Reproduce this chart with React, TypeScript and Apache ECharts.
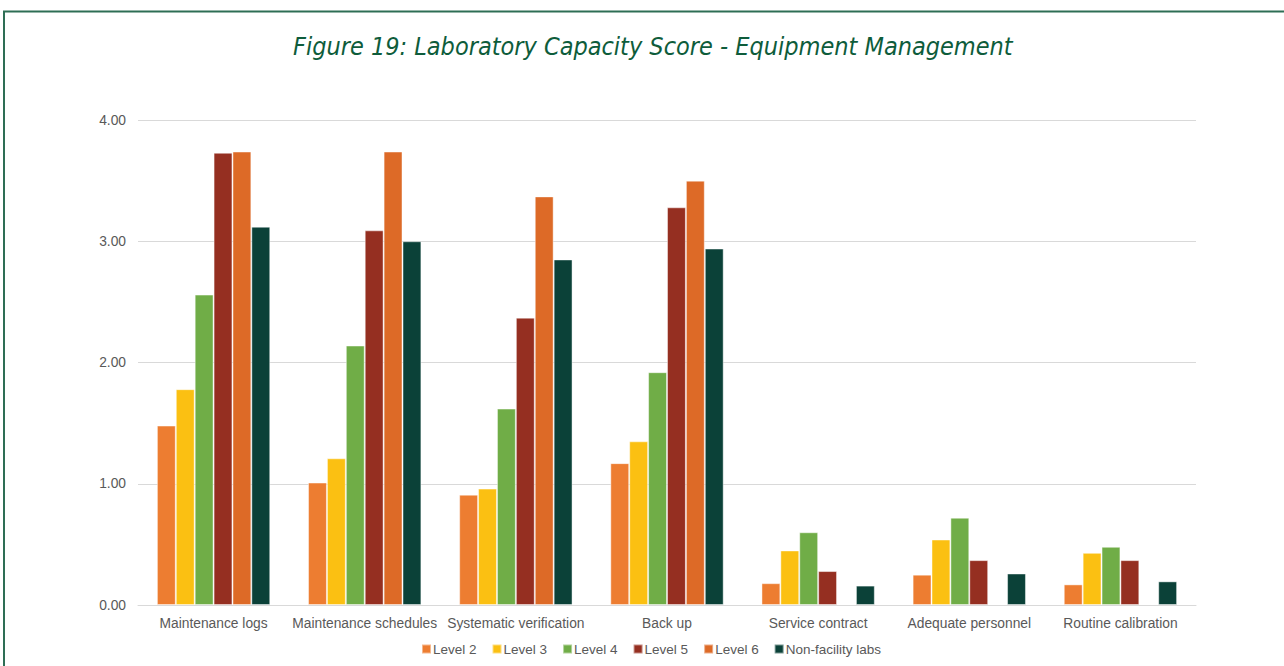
import React, { useEffect, useRef } from "react";
import * as echarts from "echarts";

const categories = [
  "Maintenance logs",
  "Maintenance schedules",
  "Systematic verification",
  "Back up",
  "Service contract",
  "Adequate personnel",
  "Routine calibration",
];
const seriesNames = ["Level 2", "Level 3", "Level 4", "Level 5", "Level 6", "Non-facility labs"];
const level2 = [1.48, 1.01, 0.91, 1.17, 0.18, 0.25, 0.17];
const level3 = [1.78, 1.21, 0.96, 1.35, 0.45, 0.54, 0.43];
const level4 = [2.56, 2.14, 1.62, 1.92, 0.6, 0.72, 0.48];
const level5 = [3.73, 3.09, 2.37, 3.28, 0.28, 0.37, 0.37];
const level6 = [3.74, 3.74, 3.37, 3.5, null, null, null];
const nonFacility = [3.12, 3.0, 2.85, 2.94, 0.16, 0.26, 0.195];
const yTicks = [0, 1, 2, 3, 4];
const colors = ["#ED7D31", "#FBC012", "#70AD47", "#952F21", "#DD6A27", "#0B4138"];

export default function App() {
  const ref = useRef<HTMLDivElement>(null);
  useEffect(() => {
    const chart = echarts.init(ref.current!, null, { renderer: "svg" });
    const data = [level2, level3, level4, level5, level6, nonFacility];
    chart.setOption({
      animation: false,
      backgroundColor: "#ffffff",
      title: {
        text: "Figure 19: Laboratory Capacity Score - Equipment Management",
        left: 288,
        top: 29,
        textStyle: {
          fontFamily: "'DejaVu Sans Condensed', 'Liberation Sans', sans-serif",
          fontStyle: "italic",
          fontWeight: "normal",
          fontSize: 25,
          color: "#0E5C3B",
        },
      },
      graphic: [
        {
          type: "rect",
          shape: { x: 4, y: 11.5, width: 1400, height: 800 },
          style: { fill: "none", stroke: "#2E6E55", lineWidth: 2 },
          silent: true,
        },
      ],
      legend: {
        bottom: 5,
        left: 416,
        itemWidth: 9,
        itemHeight: 9,
        itemGap: 15,
        icon: "rect",
        textStyle: {
          fontFamily: "Liberation Sans",
          fontSize: 13.5,
          color: "#595959",
          padding: [0, 0, 0, -3],
        },
        data: seriesNames,
      },
      grid: { left: 138, right: 88, top: 120, bottom: 61, containLabel: false },
      xAxis: {
        type: "category",
        data: categories,
        axisLine: { lineStyle: { color: "#D9D9D9" } },
        axisTick: { show: false },
        axisLabel: {
          fontFamily: "Liberation Sans",
          fontSize: 13.8,
          color: "#595959",
          margin: 11,
          interval: 0,
        },
      },
      yAxis: {
        type: "value",
        min: yTicks[0],
        max: yTicks[yTicks.length - 1],
        interval: 1,
        axisLine: { show: false },
        axisTick: { show: false },
        splitLine: { lineStyle: { color: "#D9D9D9" } },
        axisLabel: {
          fontFamily: "Liberation Sans",
          fontSize: 13.8,
          color: "#595959",
          margin: 12,
          formatter: (v: number) => v.toFixed(2),
        },
      },
      series: seriesNames.map((name, i) => ({
        name,
        type: "bar",
        data: data[i],
        barGap: "0%",
        barCategoryGap: "25%",
        itemStyle: { color: colors[i], borderColor: "rgba(255,255,255,0.45)", borderWidth: 1 },
      })),
    });
    return () => chart.dispose();
  }, []);
  return <div ref={ref} style={{ width: 1284, height: 666, position: "absolute", left: 0, top: 0 }} />;
}
